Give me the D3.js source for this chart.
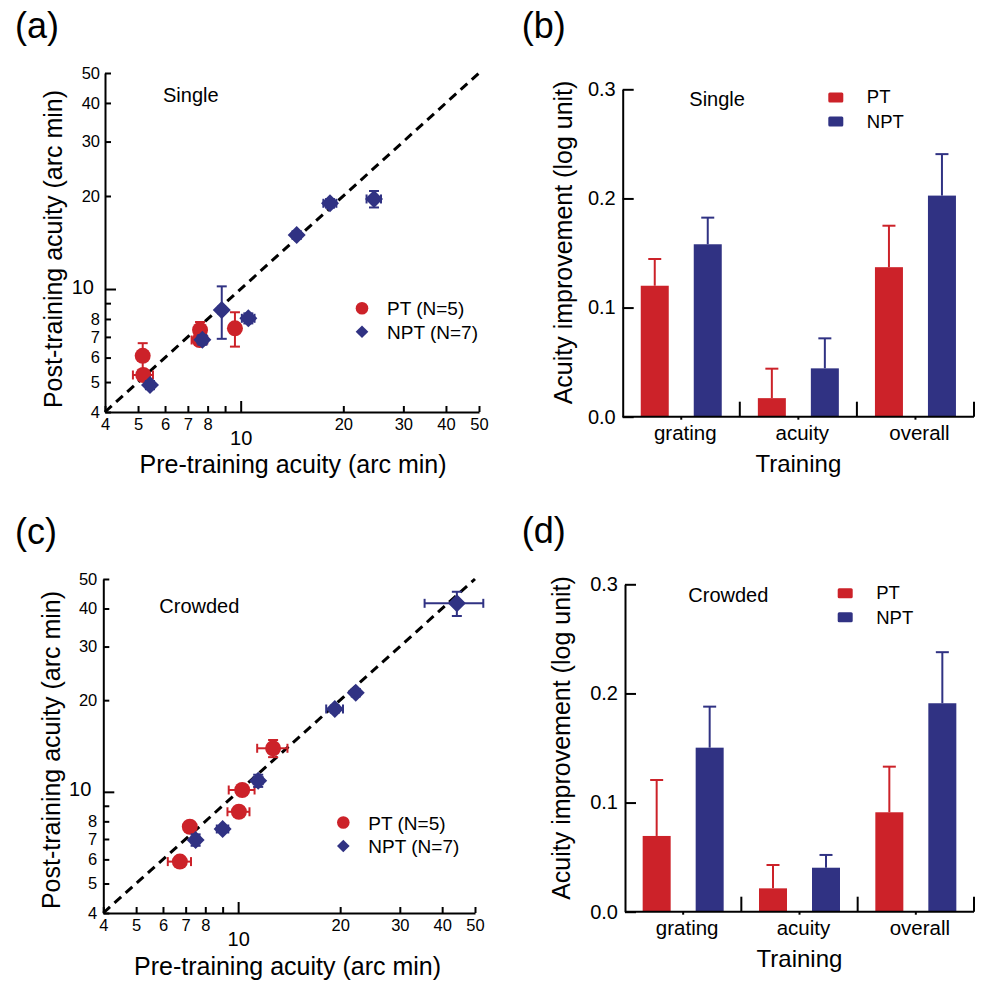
<!DOCTYPE html>
<html><head><meta charset="utf-8">
<script src="https://cdn.jsdelivr.net/npm/d3@7"></script>
<style>
body{margin:0;background:#fff}
text{font-family:"Liberation Sans",Arial,Helvetica,sans-serif;fill:#000}
</style>
</head><body>
<svg id="fig" width="981" height="982"></svg>
<script>
const RED = "#cc2229", BLUE = "#303283";

// ---------- Panel (a): Single, scatter ----------
const singlePT_pre      = [5.16, 5.18, 7.60, 7.58, 9.62];
const singlePT_post     = [6.08, 5.27, 7.37, 6.84, 7.46];
const singlePT_preErr   = [0.12, 0.35, 0.15, 0.40, 0.10];
const singlePT_postErr  = [0.60, 0.10, 0.45, 0.10, 0.95];
const singleNPT_pre     = [5.42, 7.72, 8.80, 10.53, 14.6, 18.28, 24.6];
const singleNPT_post    = [4.89, 6.85, 8.55, 8.04, 14.95, 18.94, 19.56];
const singleNPT_preErr  = [0.15, 0.25, 0.20, 0.45, 0.40, 0.80, 1.20];
const singleNPT_postErr = [0.15, 0.25, 1.65, 0.30, 0.40, 0.60, 1.20];

// ---------- Panel (c): Crowded, scatter ----------
const crowdPT_pre      = [6.73, 7.20, 10.05, 10.28, 12.68];
const crowdPT_post     = [5.90, 7.68, 8.60, 10.14, 13.90];
const crowdPT_preErr   = [0.53, 0.10, 0.75, 0.90, 1.30];
const crowdPT_postErr  = [0.10, 0.15, 0.10, 0.10, 0.90];
const crowdNPT_pre     = [7.49, 9.00, 11.46, 19.29, 22.24, 44.2];
const crowdNPT_post    = [6.95, 7.55, 10.88, 18.71, 21.17, 41.6];
const crowdNPT_preErr  = [0.20, 0.35, 0.35, 1.10, 0.50, 8.7];
const crowdNPT_postErr = [0.30, 0.15, 0.50, 0.50, 0.60, 3.8];

// log-axis ticks
const logTicks = [4, 5, 6, 7, 8, 9, 10, 20, 30, 40, 50];
const logTickLabels = ["4", "5", "6", "7", "8", "", "10", "20", "30", "40", "50"];

// ---------- Panels (b),(d): bars ----------
const categories = ["grating", "acuity", "overall"];
const singleBarPT      = [0.120, 0.017, 0.137];
const singleBarPTErr   = [0.0245, 0.027, 0.038];
const singleBarNPT     = [0.158, 0.0443, 0.2026];
const singleBarNPTErr  = [0.0244, 0.0275, 0.038];
const crowdBarPT       = [0.0694, 0.0214, 0.0911];
const crowdBarPTErr    = [0.0513, 0.0214, 0.0418];
const crowdBarNPT      = [0.1503, 0.0403, 0.1910];
const crowdBarNPTErr   = [0.0376, 0.0117, 0.0468];
const barTicks = [0, 0.1, 0.2, 0.3];

const svg = d3.select("#fig");

function txt(g, x, y, s, size, anchor, rot) {
  const t = g.append("text").attr("font-size", size).attr("text-anchor", anchor || "start").text(s);
  if (rot) t.attr("transform", `translate(${x},${y}) rotate(-90)`);
  else t.attr("x", x).attr("y", y);
  return t;
}

function scatterPanel(o) {
  const g = svg.append("g");
  const x = d3.scaleLog().domain([4, 50]).range(o.xr);
  const y = d3.scaleLog().domain([4, 50]).range(o.yr);
  const y0 = o.yr[0], x0 = o.xr[0];

  // x axis
  const ax = g.append("g").attr("transform", `translate(0,${y0})`)
    .call(d3.axisBottom(x).tickValues(logTicks).tickFormat((d, i) => logTickLabels[i])
      .tickSizeInner(-6).tickSizeOuter(0));
  ax.selectAll("path,line").attr("stroke", "#000").attr("stroke-width", 2);
  ax.selectAll(".tick line").filter(d => d === 10).attr("y2", -11);
  ax.selectAll(".tick text").attr("dy", 0).attr("y", o.xLabDy).attr("font-size", 16.5)
    .attr("font-family", '"Liberation Sans",Arial,sans-serif').attr("fill", "#000");
  ax.selectAll(".tick text").filter(d => d === 10).attr("y", o.xLabDy + 15).attr("font-size", 20);

  // y axis
  const ay = g.append("g").attr("transform", `translate(${x0},0)`)
    .call(d3.axisLeft(y).tickValues(logTicks).tickFormat((d, i) => logTickLabels[i])
      .tickSizeInner(-6).tickSizeOuter(0));
  ay.selectAll("path,line").attr("stroke", "#000").attr("stroke-width", 2);
  ay.selectAll(".tick line").filter(d => d === 10).attr("x2", 11);
  ay.selectAll(".tick text").attr("x", -o.yLabPad).attr("font-size", 16.5)
    .attr("font-family", '"Liberation Sans",Arial,sans-serif').attr("fill", "#000");
  ay.selectAll(".tick text").filter(d => d === 10).attr("x", -o.yLabPad - 6).attr("font-size", 20).attr("dy", "0.2em");

  // identity line
  g.append("line").attr("x1", x(4)).attr("y1", y(4)).attr("x2", x(50)).attr("y2", y(50))
    .attr("stroke", "#000").attr("stroke-width", 3).attr("stroke-dasharray", "9,6");

  function series(pre, post, preE, postE, color, shape) {
    const pts = pre.map((v, i) => ({ x: v, y: post[i], ex: preE[i], ey: postE[i] }));
    const eg = g.append("g").attr("stroke", color).attr("stroke-width", 2).attr("fill", "none");
    pts.forEach(p => {
      const px = x(p.x), py = y(p.y);
      const xa = x(p.x - p.ex), xb = x(p.x + p.ex), ya = y(p.y - p.ey), yb = y(p.y + p.ey);
      eg.append("line").attr("x1", xa).attr("x2", xb).attr("y1", py).attr("y2", py);
      eg.append("line").attr("x1", xa).attr("x2", xa).attr("y1", py - 4.5).attr("y2", py + 4.5);
      eg.append("line").attr("x1", xb).attr("x2", xb).attr("y1", py - 4.5).attr("y2", py + 4.5);
      eg.append("line").attr("x1", px).attr("x2", px).attr("y1", ya).attr("y2", yb);
      eg.append("line").attr("x1", px - 5).attr("x2", px + 5).attr("y1", ya).attr("y2", ya);
      eg.append("line").attr("x1", px - 5).attr("x2", px + 5).attr("y1", yb).attr("y2", yb);
    });
    if (shape === "circle") {
      g.append("g").selectAll("circle").data(pts).join("circle")
        .attr("cx", d => x(d.x)).attr("cy", d => y(d.y)).attr("r", 8).attr("fill", color);
    } else {
      const sym = d3.symbol(d3.symbolSquare, 162)();
      g.append("g").selectAll("path").data(pts).join("path").attr("d", sym)
        .attr("transform", d => `translate(${x(d.x)},${y(d.y)}) rotate(45)`).attr("fill", color);
    }
  }
  series(o.ptPre, o.ptPost, o.ptPreE, o.ptPostE, RED, "circle");
  series(o.npPre, o.npPost, o.npPreE, o.npPostE, BLUE, "diamond");

  // legend
  g.append("circle").attr("cx", o.leg[0]).attr("cy", o.leg[1]).attr("r", 6.3).attr("fill", RED);
  g.append("path").attr("d", d3.symbol(d3.symbolSquare, 80)())
    .attr("transform", `translate(${o.leg[0]},${o.leg[1] + 23.5}) rotate(45)`).attr("fill", BLUE);
  txt(g, o.leg[0] + 25, o.leg[1] + 7, "PT (N=5)", 19);
  txt(g, o.leg[0] + 25, o.leg[1] + 30.5, "NPT (N=7)", 19);

  txt(g, o.cond[0], o.cond[1], o.condText, 20);
  txt(g, o.xt[0], o.xt[1], "Pre-training acuity (arc min)", 25, "middle");
  txt(g, o.yt[0], o.yt[1], "Post-training acuity (arc min)", 25, "middle", true);
  txt(g, o.lab[0], o.lab[1], o.labText, 36);
}

function barPanel(o) {
  const g = svg.append("g");
  const xb = d3.scaleBand().domain(categories).range(o.xr).padding(0);
  const y = d3.scaleLinear().domain([0, 0.3]).range(o.yr);
  const bw = xb.bandwidth();
  const y0 = y(0);

  const ay = g.append("g").attr("transform", `translate(${o.xr[0]},0)`)
    .call(d3.axisLeft(y).tickValues(barTicks).tickFormat(d3.format(".1f")).tickSizeInner(-11).tickSizeOuter(0));
  ay.selectAll("path,line").attr("stroke", "#000").attr("stroke-width", 2);
  ay.selectAll(".tick text").attr("x", -7).attr("font-size", 20)
    .attr("font-family", '"Liberation Sans",Arial,sans-serif').attr("fill", "#000");

  const series = [
    { v: o.pt, e: o.ptE, c: RED, off: -26.5 },
    { v: o.np, e: o.npE, c: BLUE, off: 26.5 }
  ];
  series.forEach(s => {
    const data = categories.map((c, i) => ({ c, v: s.v[i], e: s.e[i] }));
    g.append("g").selectAll("rect").data(data).join("rect")
      .attr("x", d => xb(d.c) + bw / 2 + s.off - 14).attr("width", 28)
      .attr("y", d => y(d.v)).attr("height", d => y0 - y(d.v)).attr("fill", s.c);
    const eg = g.append("g").attr("stroke", s.c).attr("stroke-width", 2);
    data.forEach(d => {
      const cx = xb(d.c) + bw / 2 + s.off;
      eg.append("line").attr("x1", cx).attr("x2", cx).attr("y1", y(d.v)).attr("y2", y(d.v + d.e));
      eg.append("line").attr("x1", cx - 6.5).attr("x2", cx + 6.5).attr("y1", y(d.v + d.e)).attr("y2", y(d.v + d.e));
    });
  });

  // x axis
  const axg = g.append("g").attr("stroke", "#000").attr("stroke-width", 2);
  axg.append("line").attr("x1", o.xr[0]).attr("x2", o.xr[1]).attr("y1", y0).attr("y2", y0);
  categories.forEach(c => {
    const xe = xb(c) + bw;
    axg.append("line").attr("x1", xe).attr("x2", xe).attr("y1", y0).attr("y2", y0 - 15);
    const xc = xb(c) + bw / 2;
    axg.append("line").attr("x1", xc).attr("x2", xc).attr("y1", y0).attr("y2", y0 + 3);
    txt(g, xc + 4, y0 + 23, c, 20.5, "middle");
  });

  // legend
  g.append("rect").attr("x", o.leg[0]).attr("y", o.leg[1]).attr("width", 15).attr("height", 10).attr("rx", 1.5).attr("fill", RED);
  g.append("rect").attr("x", o.leg[0]).attr("y", o.leg[1] + 24).attr("width", 15).attr("height", 10).attr("rx", 1.5).attr("fill", BLUE);
  txt(g, o.leg[0] + 38.5, o.leg[1] + 10.5, "PT", 18.5);
  txt(g, o.leg[0] + 38.5, o.leg[1] + 35.5, "NPT", 18.5);

  txt(g, o.cond[0], o.cond[1], o.condText, 20);
  txt(g, (o.xr[0] + o.xr[1]) / 2, o.xt, "Training", 24, "middle");
  txt(g, o.yt[0], o.yt[1], "Acuity improvement (log unit)", 25, "middle", true);
  txt(g, o.lab[0], o.lab[1], o.labText, 36);
}

scatterPanel({
  xr: [105, 479], yr: [412, 73], xLabDy: 18, yLabPad: 5,
  ptPre: singlePT_pre, ptPost: singlePT_post, ptPreE: singlePT_preErr, ptPostE: singlePT_postErr,
  npPre: singleNPT_pre, npPost: singleNPT_post, npPreE: singleNPT_preErr, npPostE: singleNPT_postErr,
  leg: [362, 308.3], cond: [163, 101.5], condText: "Single",
  xt: [293, 473], yt: [61.5, 249], lab: [15, 37.5], labText: "(a)"
});
scatterPanel({
  xr: [103.3, 475], yr: [913, 579], xLabDy: 17.7, yLabPad: 6,
  ptPre: crowdPT_pre, ptPost: crowdPT_post, ptPreE: crowdPT_preErr, ptPostE: crowdPT_postErr,
  npPre: crowdNPT_pre, npPost: crowdNPT_post, npPreE: crowdNPT_preErr, npPostE: crowdNPT_postErr,
  leg: [343.3, 822.5], cond: [159.3, 613.3], condText: "Crowded",
  xt: [287.5, 975], yt: [60, 750], lab: [15, 543.5], labText: "(c)"
});
barPanel({
  xr: [622.7, 974], yr: [416.7, 89.3],
  pt: singleBarPT, ptE: singleBarPTErr, np: singleBarNPT, npE: singleBarNPTErr,
  leg: [828.3, 92.5], cond: [689.3, 106], condText: "Single",
  xt: 471.5, yt: [572, 242.5], lab: [521.7, 38], labText: "(b)"
});
barPanel({
  xr: [625, 974], yr: [911.7, 584.3],
  pt: crowdBarPT, ptE: crowdBarPTErr, np: crowdBarNPT, npE: crowdBarNPTErr,
  leg: [837.7, 588.3], cond: [688.3, 601.7], condText: "Crowded",
  xt: 967.3, yt: [570, 738], lab: [521.7, 543.3], labText: "(d)"
});
</script>
</body></html>
